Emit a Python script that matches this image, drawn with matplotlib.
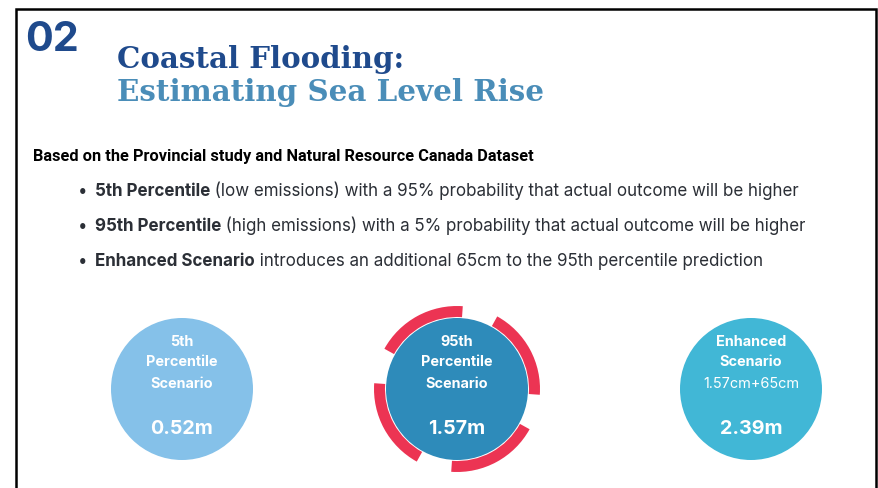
import matplotlib
matplotlib.use("Agg")
import matplotlib.pyplot as plt
from matplotlib.patches import Circle, Wedge

# texts
section_no = "02"
title_top = "Coastal Flooding:"
title_bottom = "Estimating Sea Level Rise"
source_note = "Based on the Provincial study and Natural Resource Canada Dataset"

bullet_bold = ["5th Percentile", "95th Percentile", "Enhanced Scenario"]
bullet_rest = [
    " (low emissions) with a 95% probability that actual outcome will be higher",
    " (high emissions) with a 5% probability that actual outcome will be higher",
    " introduces an additional 65cm to the 95th percentile prediction",
]

# scenarios
scenario_labels = [["5th", "Percentile", "Scenario"],
                   ["95th", "Percentile", "Scenario"],
                   ["Enhanced", "Scenario"]]
scenario_notes = ["", "", "1.57cm+65cm"]
sea_level_rise_m = [0.52, 1.57, 2.39]

# colours / layout
dark_blue = "#1F4A8C"
mid_blue = "#4A8DB8"
text_grey = "#2B2F36"
circle_colors = ["#85C1E9", "#2E8BBA", "#41B7D6"]
ring_color = "#EC3453"
circle_x = [182, 457, 751]
circle_y = 390
radius = 71

fig = plt.figure(figsize=(8.79, 4.89), dpi=100)
ax = fig.add_axes([0, 0, 1, 1])
ax.set_xlim(0, 879)
ax.set_ylim(489, 0)
ax.axis("off")
renderer = fig.canvas.get_renderer()


def fit_width(t, target):
    w = t.get_window_extent(renderer).width
    t.set_fontsize(t.get_fontsize() * target / w)


def width_of(s, **kw):
    t = ax.text(0, 0, s, fontsize=11, **kw)
    w = t.get_window_extent(renderer).width
    t.remove()
    return w


# frame
ax.plot([16, 16, 876, 876], [489, 10, 10, 489], color="black", lw=1.8,
        solid_joinstyle="miter")

# heading
t = ax.text(25, 51, section_no, family="Inter", weight="bold", fontsize=33,
            color=dark_blue, va="baseline")
fit_width(t, 54)
t = ax.text(117, 67.5, title_top, family="DejaVu Serif", weight="bold",
            fontsize=24, color=dark_blue, va="baseline")
fit_width(t, 288)
t = ax.text(117, 101, title_bottom, family="DejaVu Serif", weight="bold",
            fontsize=24, color=mid_blue, va="baseline")
fit_width(t, 428)

t = ax.text(33, 160.5, source_note, family="Roboto", weight="bold",
            fontsize=11, color="black", va="baseline")
fit_width(t, 503)

# bullets: size chosen so the first line spans ~703 px
w_first = (width_of(bullet_bold[0], family="Inter", weight="bold")
           + width_of(bullet_rest[0], family="Inter"))
size = 11 * 703 / w_first

bullet_y = [196, 231, 266.5]
for i, (b, r) in enumerate(zip(bullet_bold, bullet_rest)):
    y = bullet_y[i]
    ax.text(78, y, "\u2022", family="Inter", fontsize=size, color=text_grey,
            va="baseline")
    tb = ax.text(95, y, b, family="Inter", weight="bold", fontsize=size,
                 color=text_grey, va="baseline")
    bb = tb.get_window_extent(renderer)
    x_end = ax.transData.inverted().transform((bb.x1, 0))[0]
    ax.text(x_end, y, r, family="Inter", fontsize=size, color=text_grey,
            va="baseline")

# scenario circles
line_dy = [-48, -27.5, -6.5]
for i, val in enumerate(sea_level_rise_m):
    cx = circle_x[i]
    ax.add_patch(Circle((cx, circle_y), radius, color=circle_colors[i], lw=0))
    for j, lab in enumerate(scenario_labels[i]):
        ax.text(cx, circle_y + line_dy[j], lab, family="Inter", weight="bold",
                fontsize=10.4, color="white", ha="center", va="center")
    if scenario_notes[i]:
        ax.text(cx, circle_y + line_dy[len(scenario_labels[i])],
                scenario_notes[i], family="Inter", fontsize=10.4,
                color="white", ha="center", va="center")
    ax.text(cx, circle_y + 39.5, f"{val:.2f}m", family="Inter",
            weight="bold", fontsize=14.2, color="white", ha="center",
            va="center")

# broken red ring around the 95th percentile circle
for k in range(4):
    a0 = -94 + 90 * k
    a1 = a0 + 65
    # y axis is inverted, so flip the angles
    ax.add_patch(Wedge((circle_x[1], circle_y), 83, -a1, -a0, width=11,
                       color=ring_color, lw=0))

fig.savefig("out.png", dpi=100)
